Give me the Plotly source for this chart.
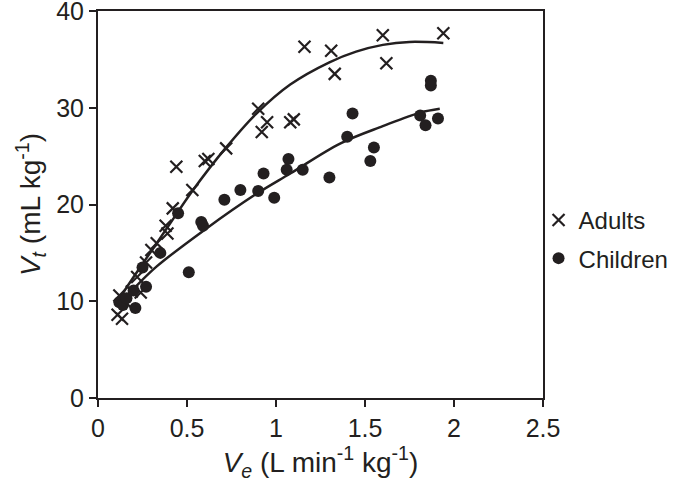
import plotly.graph_objects as go

# Adults (crosses)
adults_x = [0.11, 0.135, 0.12, 0.15, 0.19, 0.22, 0.24, 0.27, 0.30, 0.33, 0.38, 0.39,
            0.42, 0.44, 0.53, 0.60, 0.62, 0.72, 0.90, 0.92, 0.95, 1.08, 1.10,
            1.16, 1.31, 1.33, 1.60, 1.62, 1.94]
adults_y = [8.6, 8.2, 10.6, 10.0, 11.0, 12.5, 10.9, 14.0, 15.3, 16.0, 17.8, 17.0,
            19.6, 23.9, 21.5, 24.5, 24.7, 25.8, 29.9, 27.5, 28.5, 28.5, 28.8,
            36.3, 35.9, 33.5, 37.5, 34.6, 37.7]

# Children (dots)
children_x = [0.12, 0.14, 0.16, 0.20, 0.21, 0.25, 0.27, 0.35, 0.45, 0.51, 0.58, 0.59,
              0.71, 0.80, 0.90, 0.93, 0.99, 1.06, 1.07, 1.15, 1.30, 1.40, 1.43,
              1.53, 1.55, 1.81, 1.84, 1.87, 1.87, 1.91]
children_y = [9.9, 9.6, 10.3, 11.1, 9.3, 13.5, 11.5, 15.0, 19.1, 13.0, 18.2, 17.8,
              20.5, 21.5, 21.4, 23.2, 20.7, 23.6, 24.7, 23.6, 22.8, 27.0, 29.4,
              24.5, 25.9, 29.2, 28.2, 32.8, 32.3, 28.9]

# Trend lines
adults_fit_x = [0.11, 0.2, 0.3, 0.4, 0.53, 0.72, 0.89, 1.08, 1.3, 1.45, 1.6, 1.75, 1.94]
adults_fit_y = [10.0, 12.5, 15.2, 17.9, 21.4, 25.9, 29.4, 32.4, 34.7, 35.8, 36.5, 36.8, 36.7]
children_fit_x = [0.12, 0.2, 0.33, 0.6, 0.89, 1.08, 1.36, 1.6, 1.81, 1.92]
children_fit_y = [9.8, 11.3, 13.6, 17.4, 21.1, 23.2, 26.3, 28.1, 29.5, 29.9]

x_ticks = [0, 0.5, 1, 1.5, 2, 2.5]
x_tick_labels = ["0", "0.5", "1", "1.5", "2", "2.5"]
y_ticks = [0, 10, 20, 30, 40]
y_tick_labels = ["0", "10", "20", "30", "40"]

INK = "#231f20"
FONT = "Liberation Sans, Arial, Helvetica, sans-serif"

fig = go.Figure()
fig.add_trace(go.Scatter(x=adults_fit_x, y=adults_fit_y, mode="lines", line_shape="spline",
                         line=dict(color=INK, width=2.5), showlegend=False, hoverinfo="skip"))
fig.add_trace(go.Scatter(x=children_fit_x, y=children_fit_y, mode="lines", line_shape="spline",
                         line=dict(color=INK, width=2.5), showlegend=False, hoverinfo="skip"))
fig.add_trace(go.Scatter(x=adults_x, y=adults_y, mode="markers", name="Adults",
                         legendgroup="a",
                         marker=dict(symbol="x-thin", size=12, line=dict(color=INK, width=2.2), color=INK)))
fig.add_trace(go.Scatter(x=children_x, y=children_y, mode="markers", name="Children",
                         legendgroup="c",
                         marker=dict(symbol="circle", size=12, color=INK)))

axis_common = dict(showline=True, linecolor=INK, linewidth=2, mirror=True,
                   ticks="outside", ticklen=7, tickwidth=2, tickcolor=INK,
                   showgrid=False, zeroline=False, automargin=False,
                   ticklabeloverflow="allow",
                   tickfont=dict(family=FONT, size=25, color=INK))

fig.update_xaxes(range=[0, 2.5], tickvals=x_ticks, ticktext=x_tick_labels,
                 title=dict(text="<i>V<sub>e</sub></i> (L min<sup>-1</sup> kg<sup>-1</sup>)",
                            font=dict(family=FONT, size=28, color=INK), standoff=3),
                 **axis_common)
fig.update_yaxes(range=[0, 40], tickvals=y_ticks, ticktext=y_tick_labels,
                 title=dict(text="<i>V<sub>t</sub></i> (mL kg<sup>-1</sup>)",
                            font=dict(family=FONT, size=28, color=INK), standoff=7),
                 **axis_common)

fig.update_layout(
    width=685, height=482,
    margin=dict(l=98, r=142, t=11, b=84),
    paper_bgcolor="white", plot_bgcolor="white",
    showlegend=True,
    legend=dict(x=0.99, y=0.41, xanchor="left", yanchor="middle",
                font=dict(family=FONT, size=24, color=INK),
                tracegroupgap=4, bgcolor="rgba(0,0,0,0)"),
)

# remove the page's default 8px body margin so the figure fills the window
fig.write_html("out.html", config={"displayModeBar": False},
               post_script="document.body.style.margin='0';document.body.style.overflow='hidden';")
